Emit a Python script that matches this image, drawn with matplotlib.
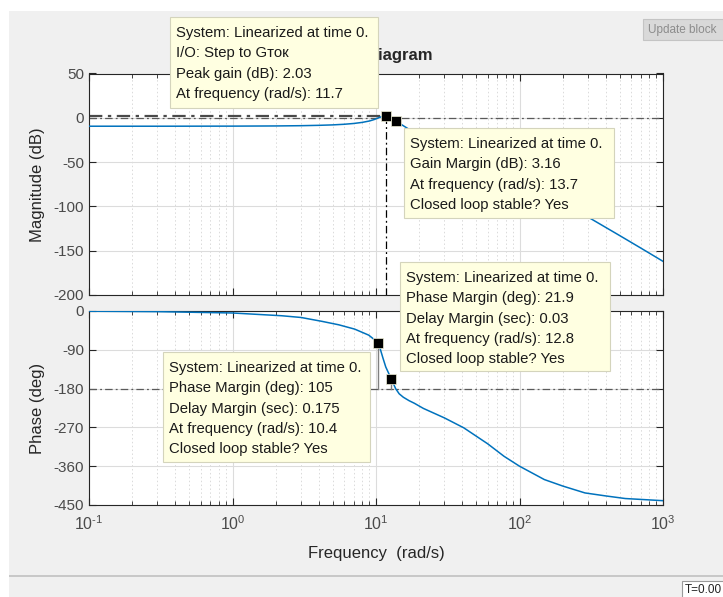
"""Bode diagram with margin data tips, redrawn from a Simulink linear analysis window."""

import matplotlib
matplotlib.use("Agg")
import matplotlib.pyplot as plt
from matplotlib.patches import Rectangle
from matplotlib.ticker import LogLocator, NullFormatter


W, H = 723, 597

# magnitude response
FREQ_MAG = [0.1, 0.3, 1, 2, 3, 4, 5, 6, 7, 8, 9, 9.7, 10.4, 11, 11.7, 12.3, 12.8,
            13.7, 15, 17, 20, 25, 30, 40, 60, 100, 150, 200, 315, 500, 700, 1000]
MAG_DB = [-9.5, -9.5, -9.4, -9.2, -8.9, -8.5, -8.0, -7.3, -6.4, -5.2, -3.6, -2.0, 0.0,
          1.4, 2.03, 1.4, 0.0, -3.16, -7.5, -13, -19, -25.5, -30, -38, -52, -70, -85,
          -96, -114, -133, -147, -162]

# phase response
FREQ_PH = [0.1, 0.3, 1, 2.2, 3, 4.2, 5.5, 7.1, 8.9, 10.4, 11.2, 11.7, 12.8, 13.7, 14.5,
           15.5, 17, 18.5, 21.4, 30, 40.9, 60, 78, 100, 149, 200, 286, 400, 546, 1000]
PHASE_DEG = [-0.5, -1.5, -4.6, -11, -15, -24, -32, -42, -56, -74, -110, -130, -158, -180,
             -192, -200, -208, -214, -226, -248, -271, -308, -337, -360, -391, -406, -422,
             -429, -435, -440]

# characteristic points
PEAK = (11.7, 2.03)
GAIN_MARGIN = (13.7, -3.16)
PM_LOW = (10.4, -75.0)
PM_HIGH = (12.8, -158.1)

MAG_TICKS = [-200, -150, -100, -50, 0, 50]
PHASE_TICKS = [-450, -360, -270, -180, -90, 0]
X_TICKS = [0.1, 1, 10, 100, 1000]
X_TICK_LABELS = [r"$10^{\text{-}1}$", r"$10^{0}$", r"$10^{1}$", r"$10^{2}$", r"$10^{3}$"]

TIPS = [
    # (left, top, right, bottom) in pixels, lines
    ((170, 17, 378, 108), ["System: Linearized at time 0.", "I/O: Step to Gток",
                           "Peak gain (dB): 2.03", "At frequency (rad/s): 11.7"]),
    ((404, 128, 614, 218), ["System: Linearized at time 0.", "Gain Margin (dB): 3.16",
                            "At frequency (rad/s): 13.7", "Closed loop stable? Yes"]),
    ((400, 262, 610, 371), ["System: Linearized at time 0.", "Phase Margin (deg): 21.9",
                            "Delay Margin (sec): 0.03", "At frequency (rad/s): 12.8",
                            "Closed loop stable? Yes"]),
    ((163, 352, 370, 462), ["System: Linearized at time 0.", "Phase Margin (deg): 105",
                            "Delay Margin (sec): 0.175", "At frequency (rad/s): 10.4",
                            "Closed loop stable? Yes"]),
]

LINE_BLUE = "#0072BD"
AX_COLOR = "#262626"
DASHDOT = (0, (6, 2.5, 1.5, 2.5))


def fx(x):
    return x / W


def fy(y):
    return 1 - y / H


def prect(fig, x0, y0, x1, y1, **kw):
    r = Rectangle((fx(x0), fy(y1)), fx(x1) - fx(x0), fy(y0) - fy(y1),
                  transform=fig.transFigure, **kw)
    fig.add_artist(r)
    return r


def style_axes(ax):
    ax.set_xscale("log")
    ax.set_xlim(0.1, 1000)
    ax.xaxis.set_minor_locator(LogLocator(base=10, subs=range(2, 10), numticks=20))
    ax.xaxis.set_minor_formatter(NullFormatter())
    ax.grid(True, which="major", color="#dcdcdc", lw=0.8, ls="-")
    ax.grid(True, which="minor", axis="x", color="#dadada", lw=0.7, ls=(0, (1.5, 2.5)))
    ax.set_axisbelow(True)
    ax.tick_params(which="both", direction="in", top=True, right=True,
                   colors=AX_COLOR, labelcolor="#4a4a4a", labelsize=11)
    ax.tick_params(which="major", length=5)
    ax.tick_params(which="minor", length=3)
    ax.tick_params(axis="x", pad=7)
    for s in ax.spines.values():
        s.set_color(AX_COLOR)
        s.set_linewidth(0.8)


def main():
    plt.rcParams["font.family"] = ["Liberation Sans", "DejaVu Sans"]
    plt.rcParams["axes.unicode_minus"] = False
    plt.rcParams["mathtext.fontset"] = "custom"
    plt.rcParams["mathtext.rm"] = "Liberation Sans"
    plt.rcParams["mathtext.it"] = "Liberation Sans"

    fig = plt.figure(figsize=(W / 100, H / 100), dpi=100, facecolor="white")

    # window chrome
    prect(fig, 9, 11, W, 575, facecolor="#f0f0f0", edgecolor="none", zorder=-10)
    prect(fig, 9, 577, W, H, facecolor="#f0f0f0", edgecolor="none", zorder=-10)
    prect(fig, 9, 575, W, 577, facecolor="#c8c8c8", edgecolor="none", zorder=-10)
    prect(fig, 643, 19, W + 2, 40, facecolor="#d9d9d9", edgecolor="#c4c4c4", lw=0.8)
    fig.text(fx(648), fy(29.5), "Update block", fontsize=8.5, color="#8c8c8c",
             va="center", ha="left")
    prect(fig, 682, 581, W + 2, H + 2, facecolor="white", edgecolor="#9a9a9a", lw=0.8)
    fig.text(fx(685), fy(590), "T=0.00", fontsize=8.5, color="#222222", va="center")

    ax_mag = fig.add_axes([fx(89), fy(295), fx(663) - fx(89), fy(73.5) - fy(295)])
    ax_ph = fig.add_axes([fx(89), fy(505), fx(663) - fx(89), fy(311) - fy(505)])

    # magnitude
    style_axes(ax_mag)
    ax_mag.set_ylim(-200, 50)
    ax_mag.set_yticks(MAG_TICKS)
    ax_mag.set_xticks(X_TICKS)
    ax_mag.set_xticklabels([])
    ax_mag.axhline(0, color="#5a5a5a", lw=0.9, ls=DASHDOT, zorder=2)
    ax_mag.plot([0.1, PEAK[0]], [PEAK[1], PEAK[1]], color="#4a4a4a", lw=1.6, ls=DASHDOT, zorder=2)
    ax_mag.plot([PEAK[0], PEAK[0]], [PEAK[1], -200], color="black", lw=0.9, ls=DASHDOT, zorder=2)
    ax_mag.plot([GAIN_MARGIN[0], GAIN_MARGIN[0]], [0, GAIN_MARGIN[1]], color="#808080", lw=1, zorder=2)
    ax_mag.plot(FREQ_MAG, MAG_DB, color=LINE_BLUE, lw=1.1, zorder=3)
    ax_mag.plot(*PEAK, marker="s", ms=7.5, color="black", mec="#f0f0d8", mew=0.5, zorder=4)
    ax_mag.plot(*GAIN_MARGIN, marker="s", ms=7.5, color="black", mec="#f0f0d8", mew=0.5, zorder=4)
    ax_mag.set_ylabel("Magnitude (dB)", fontsize=12, color=AX_COLOR)
    ax_mag.set_title("Bode Diagram", fontsize=12, fontweight="bold", color=AX_COLOR, pad=10)

    # phase
    style_axes(ax_ph)
    ax_ph.set_ylim(-450, 0)
    ax_ph.set_yticks(PHASE_TICKS)
    ax_ph.set_xticks(X_TICKS)
    ax_ph.set_xticklabels(X_TICK_LABELS, fontsize=11.5)
    ax_ph.axhline(-180, color="#5a5a5a", lw=0.9, ls=DASHDOT, zorder=2)
    for f, p in (PM_LOW, PM_HIGH):
        ax_ph.plot([f, f], [p, -180], color="#808080", lw=1, zorder=2)
    ax_ph.plot(FREQ_PH, PHASE_DEG, color=LINE_BLUE, lw=1.1, zorder=3)
    for pt in (PM_LOW, PM_HIGH):
        ax_ph.plot(*pt, marker="s", ms=7.5, color="black", mec="#f0f0d8", mew=0.5, zorder=4)
    ax_ph.set_ylabel("Phase (deg)", fontsize=12, color=AX_COLOR)
    ax_ph.set_xlabel("Frequency  (rad/s)", fontsize=12, color=AX_COLOR, labelpad=9)

    # y labels sit closer to the axes than default
    ax_mag.yaxis.set_label_coords(-0.077, 0.5)
    ax_ph.yaxis.set_label_coords(-0.077, 0.5)

    # data tips
    for (x0, y0, x1, y1), lines in TIPS:
        prect(fig, x0, y0, x1, y1, facecolor="#ffffe1", edgecolor="#d4d4bc", lw=0.8, zorder=20)
        for i, line in enumerate(lines):
            fig.text(fx(x0 + 6), fy(y0 + 16 + 20.3 * i), line, fontsize=10.7,
                     color="#1a1a1a", va="center", ha="left", zorder=21)

    fig.savefig("out.png", dpi=100, facecolor=fig.get_facecolor())
    plt.close(fig)


if __name__ == "__main__":
    main()
